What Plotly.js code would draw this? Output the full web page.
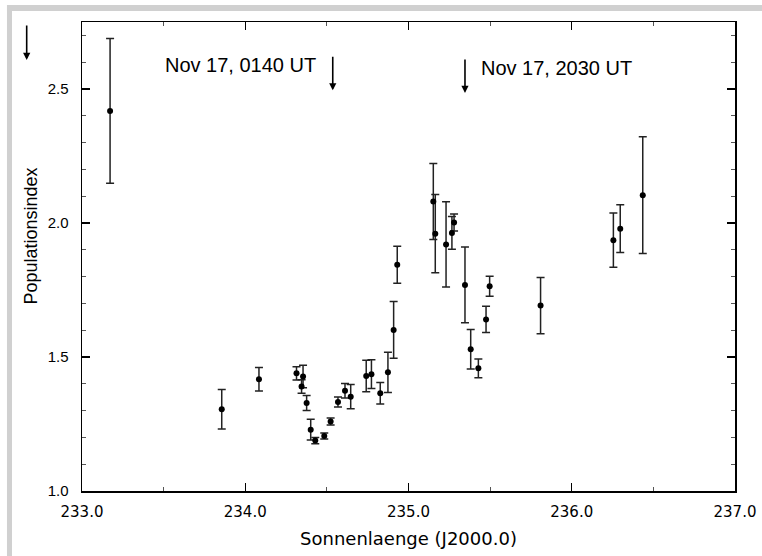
<!DOCTYPE html>
<html>
<head>
<meta charset="utf-8">
<script src="https://cdn.plot.ly/plotly-3.0.1.min.js"></script>
<style>
  html, body { margin: 0; padding: 0; background: #ffffff; }
  #chart { width: 762px; height: 556px; }
</style>
</head>
<body>
<div id="chart"></div>
<script>
// Solar longitude (J2000.0)
const solarLongitude = [
  233.172, 233.856, 234.084, 234.314, 234.354, 234.345, 234.376, 234.401,
  234.429, 234.484, 234.523, 234.568, 234.611, 234.646, 234.741, 234.773,
  234.827, 234.874, 234.909, 234.931, 235.152, 235.164, 235.230, 235.266,
  235.279, 235.346, 235.381, 235.428, 235.475, 235.497, 235.809, 236.255,
  236.297, 236.435
];
// Population index
const populationIndex = [
  2.418, 1.305, 1.417, 1.439, 1.427, 1.390, 1.328, 1.229,
  1.188, 1.205, 1.259, 1.332, 1.374, 1.352, 1.429, 1.436,
  1.365, 1.443, 1.601, 1.844, 2.080, 1.960, 1.920, 1.963,
  2.002, 1.769, 1.529, 1.458, 1.640, 1.764, 1.692, 1.936,
  1.979, 2.104
];
// Error of population index
const populationError = [
  0.270, 0.074, 0.044, 0.025, 0.042, 0.025, 0.028, 0.039,
  0.012, 0.011, 0.013, 0.019, 0.027, 0.045, 0.059, 0.054,
  0.040, 0.075, 0.106, 0.069, 0.142, 0.146, 0.159, 0.061,
  0.032, 0.141, 0.074, 0.035, 0.049, 0.037, 0.105, 0.101,
  0.089, 0.218
];
// Event markers
const eventLabels = ["Nov 17, 0140 UT", "Nov 17, 2030 UT"];
const eventLongitudes = [234.536, 235.346];
const xTickVals = [233, 234, 235, 236, 237];
const xTickText = ["233.0", "234.0", "235.0", "236.0", "237.0"];
const yTickVals = [1.0, 1.5, 2.0, 2.5];
const yTickText = ["1.0", "1.5", "2.0", "2.5"];
const yTitle = "Populationsindex";
const xTitle = "Sonnenlaenge (J2000.0)";

const trace = {
  type: 'scatter',
  mode: 'markers',
  x: solarLongitude,
  y: populationIndex,
  marker: { color: '#000000', size: 6 },
  error_y: {
    type: 'data',
    array: populationError,
    visible: true,
    color: '#222222',
    thickness: 1.5,
    width: 4
  },
  cliponaxis: false,
  hoverinfo: 'x+y'
};

const arrowCommon = {
  showarrow: true, arrowhead: 2, arrowsize: 0.9, arrowwidth: 1.6,
  arrowcolor: '#000000', ax: 0, ay: -35, text: ''
};

const annotations = [
  Object.assign({}, arrowCommon, { x: eventLongitudes[0], y: 2.495, xref: 'x', yref: 'y' }),
  Object.assign({}, arrowCommon, { x: eventLongitudes[1], y: 2.485, xref: 'x', yref: 'y' }),
  Object.assign({}, arrowCommon, { x: -0.0847, y: 0.919, xref: 'paper', yref: 'paper', ay: -36 }),
  { x: 233.968, y: 2.591, xref: 'x', yref: 'y', text: eventLabels[0], showarrow: false,
    font: { family: 'Liberation Sans, Arial, sans-serif', size: 20, color: '#000' } },
  { x: 235.908, y: 2.578, xref: 'x', yref: 'y', text: eventLabels[1], showarrow: false,
    font: { family: 'Liberation Sans, Arial, sans-serif', size: 20, color: '#000' } },
  { x: -0.0781, y: 0.5426, xref: 'paper', yref: 'paper', text: yTitle, showarrow: false,
    textangle: -90, xanchor: 'center', yanchor: 'middle',
    font: { family: 'Liberation Sans, Arial, sans-serif', size: 18, color: '#000' } }
];

const frameColor = '#d0d0d0';
const shapes = [
  { type: 'rect', xref: 'paper', yref: 'paper', x0: -0.1149, x1: 1.05, y0: 1.0235, y1: 1.0362,
    fillcolor: frameColor, line: { width: 0 }, layer: 'below' },
  { type: 'rect', xref: 'paper', yref: 'paper', x0: -0.1149, x1: -0.1072, y0: -0.15, y1: 1.0362,
    fillcolor: frameColor, line: { width: 0 }, layer: 'below' }
];

const layout = {
  width: 762, height: 556,
  margin: { l: 82, r: 27, t: 22, b: 65 },
  paper_bgcolor: '#ffffff', plot_bgcolor: '#ffffff',
  showlegend: false,
  xaxis: {
    range: [233, 237],
    tickmode: 'array', tickvals: xTickVals, ticktext: xTickText,
    ticks: 'inside', ticklen: 8, tickwidth: 1.2, tickcolor: '#000',
    minor: { ticks: 'inside', ticklen: 4, dtick: 0.5, tick0: 233, tickcolor: '#555', tickwidth: 1 },
    showline: true, linecolor: '#000', linewidth: 1.5, mirror: 'ticks',
    showgrid: false, zeroline: false,
    ticklabelstandoff: 6,
    tickfont: { family: 'DejaVu Sans, sans-serif', size: 15, color: '#000' },
    title: { text: xTitle, standoff: 13,
      font: { family: 'DejaVu Sans, sans-serif', size: 18, color: '#000' } }
  },
  yaxis: {
    range: [1.0, 2.75],
    tickmode: 'array', tickvals: yTickVals, ticktext: yTickText,
    ticks: 'inside', ticklen: 8, tickwidth: 1.2, tickcolor: '#000',
    minor: { ticks: 'inside', ticklen: 4, dtick: 0.1, tick0: 1.0, tickcolor: '#555', tickwidth: 1 },
    showline: true, linecolor: '#000', linewidth: 1.5, mirror: 'ticks',
    showgrid: false, zeroline: false,
    ticklabelstandoff: 9,
    tickfont: { family: 'Liberation Sans, Arial, sans-serif', size: 15, color: '#000' }
  },
  annotations: annotations,
  shapes: shapes
};

Plotly.newPlot('chart', [trace], layout, { displayModeBar: false, staticPlot: true });
</script>
</body>
</html>
